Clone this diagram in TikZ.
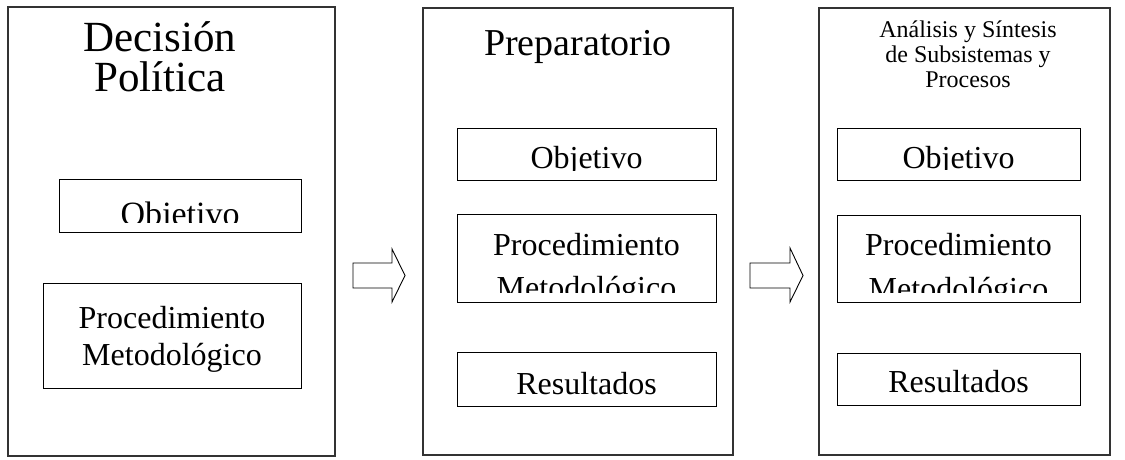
\documentclass[tikz,border=0pt]{standalone}
\usepackage{fontspec}
\setmainfont{Liberation Serif}
\usetikzlibrary{fit}
\newcommand{\ctrlines}[1]{\vtop{\lineskiplimit=-1000pt\halign{\hfil##\hfil\cr#1\crcr}}}
\tikzset{
  outerbox/.style={draw=black!80, line width=1.4pt, inner sep=0pt},
  innerbox/.style={draw=black, line width=1pt, inner sep=0pt},
  bigtitle/.style={anchor=base, inner sep=0pt, font=\fontsize{43}{40}\selectfont},
  midtitle/.style={anchor=base, inner sep=0pt, font=\fontsize{38}{40}\selectfont},
  smalltitle/.style={anchor=base, inner sep=0pt, font=\fontsize{24}{25}\selectfont},
  boxtext/.style={anchor=base, inner sep=0pt, font=\fontsize{32}{37}\selectfont},
  blockarrow/.style={draw=black, line width=0.9pt, fill=white, line join=miter}
}
\begin{document}
\begin{tikzpicture}[x=1pt,y=-1pt]
\useasboundingbox (0,0) rectangle (1125,459);
% outer boxes
\node[outerbox, fit={(8,7) (335,456)}] (b1) {};
\node[outerbox, fit={(423,8) (733,455)}] (b2) {};
\node[outerbox, fit={(819,8) (1110,455)}] (b3) {};
% titles
\node[bigtitle] (t1) at (160,51) {\ctrlines{Decisión\cr Política}};
\node[midtitle] (t2) at (578,55) {Preparatorio};
\node[smalltitle] (t3) at (968,37) {\ctrlines{Análisis y Síntesis\cr de Subsistemas y\cr Procesos}};
% inner boxes
\node[innerbox, fit={(59,179) (301,232)}] (b1obj) {};
\node[innerbox, fit={(43,283) (301,388)}] (b1proc) {};
\node[innerbox, fit={(457,128) (716,180)}] (b2obj) {};
\node[innerbox, fit={(457,214) (716,302)}] (b2proc) {};
\node[innerbox, fit={(457,352) (716,406)}] (b2res) {};
\node[innerbox, fit={(837,128) (1080,180)}] (b3obj) {};
\node[innerbox, fit={(837,215) (1080,302)}] (b3proc) {};
\node[innerbox, fit={(837,353) (1080,405)}] (b3res) {};
% texts (clipped like the original)
\begin{scope}
  \clip (59,179) rectangle (301,222);
  \node[boxtext, font=\fontsize{34}{37}\selectfont] (x1obj) at (180,225) {Objetivo};
\end{scope}
\node[boxtext] (x1proc) at (172,328) {\ctrlines{Procedimiento\cr Metodológico}};
\begin{scope}
  \clip (457,128) rectangle (716,170);
  \node[boxtext] (x2obj) at (586.5,168) {Objetivo};
\end{scope}
\begin{scope}
  \clip (457,214) rectangle (716,292);
  \node[boxtext, font=\fontsize{32}{43}\selectfont] (x2proc) at (586.5,255) {\ctrlines{Procedimiento\cr Metodológico}};
\end{scope}
\node[boxtext] (x2res) at (586.5,394) {Resultados};
\begin{scope}
  \clip (837,128) rectangle (1080,169);
  \node[boxtext] (x3obj) at (958.5,168) {Objetivo};
\end{scope}
\begin{scope}
  \clip (837,215) rectangle (1080,292);
  \node[boxtext, font=\fontsize{32}{44}\selectfont] (x3proc) at (958.5,255) {\ctrlines{Procedimiento\cr Metodológico}};
\end{scope}
\node[boxtext] (x3res) at (958.5,392) {Resultados};
% block arrows
\draw[blockarrow] (353,263) -- (392,263) -- (392,249) -- (405,275.5) -- (392,302) -- (392,288) -- (353,288) -- cycle;
\draw[blockarrow] (750,263) -- (790,263) -- (790,248) -- (803,275.5) -- (790,302) -- (790,288) -- (750,288) -- cycle;
\end{tikzpicture}
\end{document}
